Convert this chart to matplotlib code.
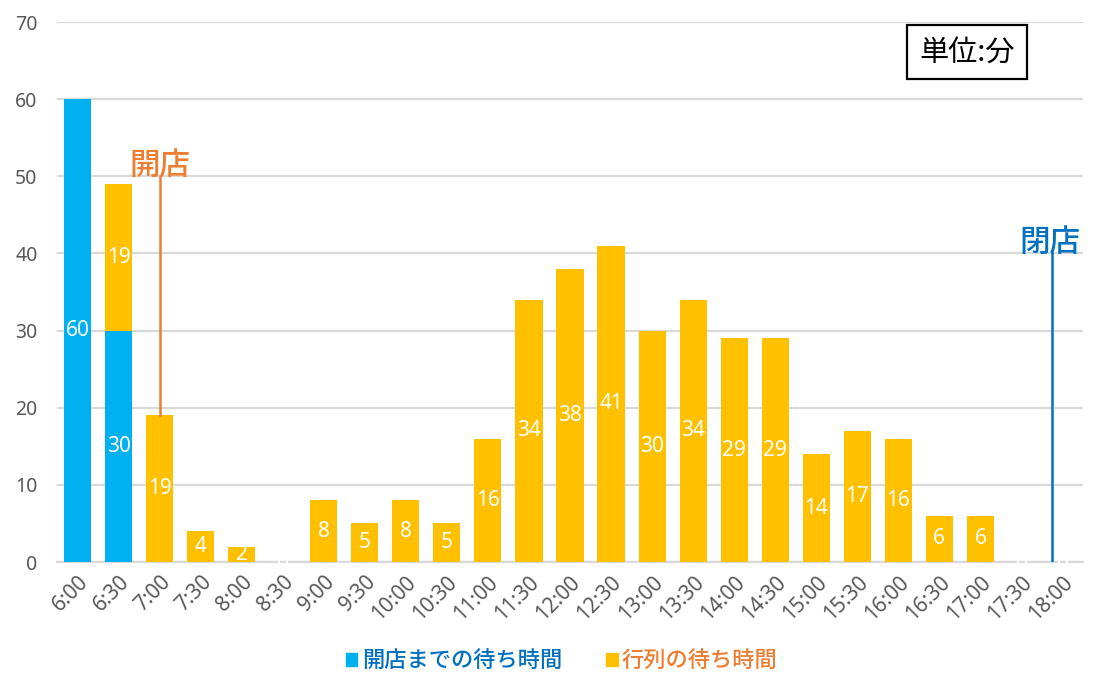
import matplotlib
matplotlib.use("Agg")
import matplotlib.pyplot as plt
from matplotlib.patches import Patch
import numpy as np

plt.rcParams['font.family'] = ['Noto Sans CJK JP', 'DejaVu Sans']
NUMFONT = ['Noto Sans', 'DejaVu Sans']

times = ["6:00", "6:30", "7:00", "7:30", "8:00", "8:30", "9:00", "9:30", "10:00",
         "10:30", "11:00", "11:30", "12:00", "12:30", "13:00", "13:30", "14:00",
         "14:30", "15:00", "15:30", "16:00", "16:30", "17:00", "17:30", "18:00"]
before_open = [60, 30, 0, 0, 0, 0, 0, 0, 0, 0, 0, 0, 0, 0, 0, 0, 0, 0, 0, 0, 0, 0, 0, 0, 0]
queue_wait = [0, 19, 19, 4, 2, 0, 8, 5, 8, 5, 16, 34, 38, 41, 30, 34, 29, 29, 14, 17, 16, 6, 6, 0, 0]
series_names = ["開店までの待ち時間", "行列の待ち時間"]
open_idx, open_top = 2, 50
close_pos, close_top = 23.75, 40

BLUE = "#00B0F0"
YELLOW = "#FFC000"
ORANGE_TXT = "#ED7D31"
BLUE_TXT = "#0070C0"
GRID = "#D9D9D9"
TICK = "#595959"

fig = plt.figure(figsize=(11.06, 6.9), dpi=100)
ax = fig.add_axes([57/1106, 1-562/690, (1083-57)/1106, (562-22)/690])

x = np.arange(len(times))
bo = np.array(before_open)
qw = np.array(queue_wait)
w = 0.66
ax.bar(x, bo, width=w, color=BLUE, zorder=2)
ax.bar(x, qw, width=w, bottom=bo, color=YELLOW, zorder=2)

lab_kw = dict(color="white", ha="center", va="center", fontsize=15, family=NUMFONT,
              fontweight="medium", zorder=4)
for i in range(len(times)):
    if bo[i] > 0:
        ax.text(x[i], bo[i] / 2, str(bo[i]), **lab_kw)
    if i >= 1:
        if qw[i] > 0 or bo[i] == 0:
            ax.text(x[i], bo[i] + qw[i] / 2, str(qw[i]), **lab_kw)

# opening / closing markers
ax.plot([open_idx, open_idx], [bo[open_idx] + qw[open_idx], open_top], color=ORANGE_TXT, lw=1.8, zorder=3)
ax.text(open_idx, open_top - 0.6, "開店", color=ORANGE_TXT, fontsize=22, ha="center", va="bottom", fontweight="medium")
ax.plot([close_pos, close_pos], [0, close_top], color=BLUE_TXT, lw=1.8, zorder=3)
ax.text(close_pos - 0.05, close_top - 0.6, "閉店", color=BLUE_TXT, fontsize=22, ha="center", va="bottom", fontweight="medium")

ax.set_xlim(-0.5, len(times) - 0.5)
ax.set_ylim(0, 70)
ax.set_yticks(range(0, 71, 10))
ax.grid(axis="y", color=GRID, lw=1.6, zorder=0)
ax.set_axisbelow(True)
for s in ["top", "right", "left"]:
    ax.spines[s].set_visible(False)
ax.spines["bottom"].set_color(GRID)
ax.spines["bottom"].set_linewidth(1.6)
ax.spines["bottom"].set_zorder(1)
ax.tick_params(axis="both", length=0, colors=TICK)
ax.tick_params(axis="y", pad=14, labelsize=14)
ax.tick_params(axis="x", pad=7, labelsize=15)
ax.set_xticks(x)
ax.set_xticklabels(times, rotation=45, ha="right", rotation_mode="anchor")
for lab in ax.get_xticklabels() + ax.get_yticklabels():
    lab.set_family(NUMFONT)
    lab.set_fontweight("medium")

# unit box
ax.text(0.887, 0.944, "単位:分", transform=ax.transAxes, fontsize=21, color="black",
        ha="center", va="center",
        bbox=dict(boxstyle="square,pad=0.42", fc="white", ec="black", lw=1.6))

handles = [Patch(color=BLUE), Patch(color=YELLOW)]
fig.legend(handles, series_names, loc="center", bbox_to_anchor=(562/1106, 1-661/690),
           ncol=2, frameon=False, prop=dict(size=16, weight="medium"),
           labelcolor=[BLUE_TXT, ORANGE_TXT],
           handlelength=0.5, handleheight=0.5, handletextpad=0.2, columnspacing=2.0)

fig.savefig("out.png", dpi=100)
